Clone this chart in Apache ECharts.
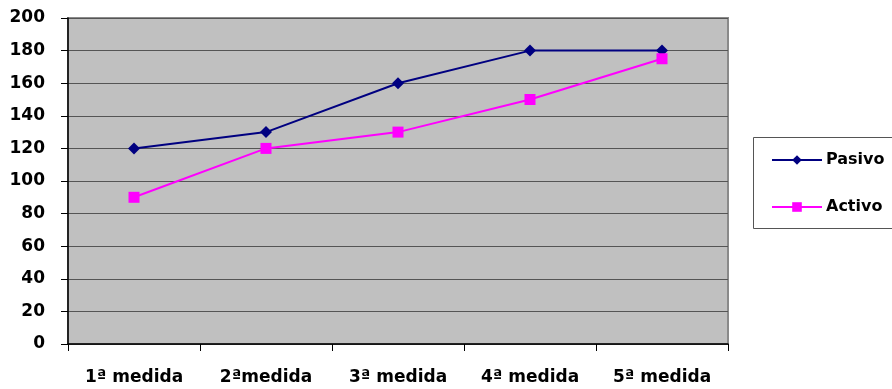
<!DOCTYPE html>
<html>
<head>
<meta charset="utf-8">
<script src="https://cdn.jsdelivr.net/npm/echarts@6/dist/echarts.min.js"></script>
<style>
  html, body { margin: 0; padding: 0; background: #fff; }
  #chart { width: 892px; height: 389px; }
</style>
</head>
<body>
<div id="chart"></div>
<script>
const categories = ['1ª medida', '2ªmedida', '3ª medida', '4ª medida', '5ª medida'];
const pasivo = [120, 130, 160, 180, 180];
const activo = [90, 120, 130, 150, 175];
const yTicks = { min: 0, max: 200, interval: 20 };

const font = 'DejaVu Sans, Verdana, sans-serif';
const chart = echarts.init(document.getElementById('chart'));
chart.setOption({
  animation: false,
  backgroundColor: '#ffffff',
  textStyle: { fontFamily: font },
  grid: {
    left: 68, right: 164, top: 18, bottom: 45,
    show: true,
    backgroundColor: '#C0C0C0',
    borderColor: '#8a8a8a',
    borderWidth: 2
  },
  graphic: [{
    type: 'rect',
    shape: { x: 753.5, y: 137.5, width: 150, height: 91 },
    style: { fill: '#fff', stroke: '#555', lineWidth: 1 },
    z: 0
  }],
  legend: {
    orient: 'vertical',
    left: 766,
    top: 147,
    itemWidth: 50,
    itemHeight: 12,
    itemGap: 31,
    textStyle: { fontFamily: font, fontWeight: 'bold', fontSize: 16, color: '#000', padding: [0, 0, 0, -1] },
    data: ['Pasivo', 'Activo'],
    z: 5
  },
  xAxis: {
    type: 'category',
    data: categories,
    boundaryGap: true,
    axisLine: { lineStyle: { color: '#000', width: 1.5 } },
    axisTick: { show: true, length: 7, lineStyle: { color: '#000' } },
    axisLabel: { margin: 25, fontFamily: font, fontWeight: 'bold', fontSize: 17, color: '#000' },
    splitLine: { show: false }
  },
  yAxis: {
    type: 'value',
    min: yTicks.min, max: yTicks.max, interval: yTicks.interval,
    axisLine: { show: true, lineStyle: { color: '#000', width: 1.5 } },
    axisTick: { show: true, length: 7, lineStyle: { color: '#000' } },
    axisLabel: { margin: 23, fontFamily: font, fontWeight: 'bold', fontSize: 17, color: '#000' },
    splitLine: { show: true, lineStyle: { color: '#555', width: 1 } }
  },
  series: [
    {
      name: 'Pasivo', type: 'line', data: pasivo,
      color: '#000080',
      lineStyle: { width: 2, color: '#000080' },
      symbol: 'diamond', symbolSize: 12,
      itemStyle: { color: '#000080' }
    },
    {
      name: 'Activo', type: 'line', data: activo,
      color: '#FF00FF',
      lineStyle: { width: 2, color: '#FF00FF' },
      symbol: 'rect', symbolSize: 11,
      itemStyle: { color: '#FF00FF' }
    }
  ]
});
</script>
</body>
</html>
